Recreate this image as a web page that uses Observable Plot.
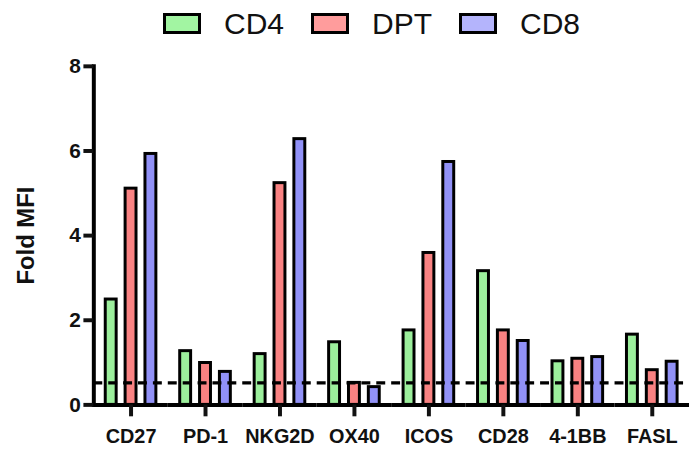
<!DOCTYPE html>
<html><head><meta charset="utf-8">
<script src="https://cdn.jsdelivr.net/npm/d3@7"></script>
<script src="https://cdn.jsdelivr.net/npm/@observablehq/plot@0.6"></script>
<style>
html,body{margin:0;padding:0;background:#fff;overflow:hidden;width:691px;height:453px}
#legend{height:45px;display:flex;align-items:center;padding-left:163px;box-sizing:border-box;padding-top:2px;font-family:"Liberation Sans",Arial,sans-serif;font-size:30px;color:#111}
.item{display:flex;align-items:center;width:148px;flex:none}
.sw{width:32px;height:15px;border:3px solid #000;margin-right:23px;flex:none}
.item span{line-height:30px}
</style></head><body>
<div id="legend"></div>
<div id="chart"></div>
<script>
const categories = ["CD27","PD-1","NKG2D","OX40","ICOS","CD28","4-1BB","FASL"];
const series = ["CD4","DPT","CD8"];
const cd4 = [2.49,1.27,1.20,1.48,1.76,3.16,1.03,1.66];
const dpt = [5.11,0.99,5.24,0.52,3.59,1.76,1.09,0.82];
const cd8 = [5.93,0.78,6.28,0.42,5.74,1.51,1.13,1.02];
const yTicks = [0,2,4,6,8];
const threshold = 0.52;
const barColors = ["#9cef9c","#f98282","#9191f7"];
const swatchColors = ["#a2f5a2","#ff9c9c","#b4b4fc"];

const valuesBySeries = [cd4, dpt, cd8];
const data = [];
categories.forEach((c, i) => series.forEach((s, j) => data.push({category: c, series: s, value: valuesBySeries[j][i]})));

const legend = document.getElementById("legend");
series.forEach((s, j) => {
  const it = document.createElement("div");
  it.className = "item";
  const sw = document.createElement("div");
  sw.className = "sw";
  sw.style.background = swatchColors[j];
  const t = document.createElement("span");
  t.textContent = s;
  it.appendChild(sw); it.appendChild(t);
  legend.appendChild(it);
});

const chart = Plot.plot({
  width: 696, height: 408,
  marginLeft: 91, marginRight: 0, marginTop: 21, marginBottom: 46,
  style: {fontFamily: "Liberation Sans, Arial, sans-serif", fontWeight: "bold", color: "#111", background: "white", overflow: "visible"},
  fx: {domain: categories, padding: 0, axis: null},
  x: {domain: series, paddingInner: 0.45, paddingOuter: 0.55, axis: null},
  y: {domain: [0, 8], axis: null},
  color: {domain: series, range: barColors},
  marks: [
    Plot.barY(data, {fx: "category", x: "series", y: "value", fill: "series", stroke: "black", strokeWidth: 3, inset: 0}),
    Plot.ruleY([threshold], {stroke: "black", strokeWidth: 3.5, strokeDasharray: "9,6"}),
    Plot.ruleY([0], {stroke: "black", strokeWidth: 4}),
    Plot.frame({anchor: "left", facetAnchor: "left", stroke: "black", strokeWidth: 4}),
    Plot.axisY({ticks: yTicks, tickSize: 10, tickPadding: 3, strokeWidth: 4, fontSize: 21, label: null}),
    Plot.axisY({ticks: [], label: "Fold MFI", labelAnchor: "center", labelArrow: "none", labelOffset: 77, fontSize: 24}),
    Plot.axisFx({anchor: "bottom", tickSize: 12, tickPadding: 12, strokeWidth: 4, fontSize: 20, label: null})
  ]
});
document.getElementById("chart").appendChild(chart);
</script>
</body></html>
